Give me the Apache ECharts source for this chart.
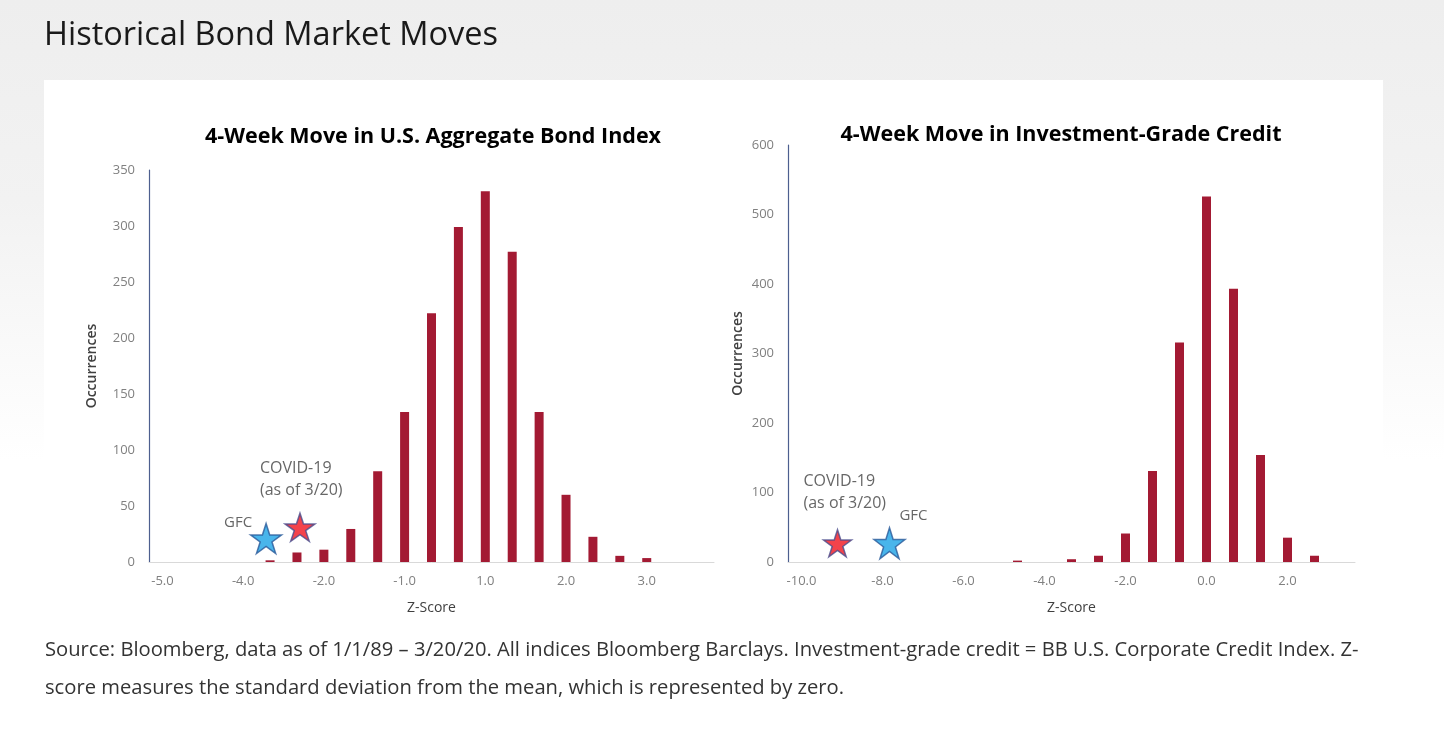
<!DOCTYPE html>
<html>
<head>
<meta charset="utf-8">
<script src="https://cdn.jsdelivr.net/npm/echarts@6/dist/echarts.min.js"></script>
<style>
html,body{margin:0;padding:0;width:1444px;height:729px;overflow:hidden;
background:linear-gradient(180deg,#eeeeee 0px,#f2f2f2 200px,#ffffff 460px,#ffffff 729px);}
#chart{width:1444px;height:729px;}
</style>
</head>
<body>
<div id="chart"></div>
<script>
// ---- data ----
const pageTitle = 'Historical Bond Market Moves';
const leftTitle = '4-Week Move in U.S. Aggregate Bond Index';
const rightTitle = '4-Week Move in Investment-Grade Credit';
const captionLines = [
  'Source: Bloomberg, data as of 1/1/89 \u2013 3/20/20. All indices Bloomberg Barclays. Investment-grade credit = BB U.S. Corporate Credit Index. Z-',
  'score measures the standard deviation from the mean, which is represented by zero.'
];
// category bins (label shown every 3rd bin)
const leftCategories = ['-5.0','','','-4.0','','','-2.0','','','-1.0','','','1.0','','','2.0','','','3.0','',''];
const leftValues = [0,0,0,0,1.5,8.5,11,29.5,81,134,222,299,331,277,134,60,22.5,5.5,3.5,0,0];
const rightCategories = ['-10.0','','','-8.0','','','-6.0','','','-4.0','','','-2.0','','','0.0','','','2.0','',''];
const rightValues = [0,0,0,0,0,0,0,0,2,0,4,9,41,131,316,526,393,154,35,9,0];
// event markers: [binIndex, value]
const leftGFC = [4, 21];
const leftCOVID = [5, 31];
const rightCOVID = [1, 27];
const rightGFC = [3, 27];
const leftYTicks = {min:0, max:350, interval:50};
const rightYTicks = {min:0, max:600, interval:100};

// ---- styles ----
const FONT = '"Open Sans", sans-serif';
const barColor = '#A31A33';
const starPath = 'path://M50,0 L61.8,36.2 L100,36.2 L69.1,58.8 L80.9,95.1 L50,72.7 L19.1,95.1 L30.9,58.8 L0,36.2 L38.2,36.2 Z';
const annoText = {color:'#404040', fontSize:16, fontFamily:FONT, lineHeight:22};

function xAxisCfg(gridIndex, cats){
  return {
    type:'category', gridIndex, data:cats, boundaryGap:true,
    axisLine:{lineStyle:{color:'#d9d9d9', width:1}},
    axisTick:{show:false},
    axisLabel:{interval:0, color:'#808080', fontSize:13, fontFamily:FONT, margin:13},
    name:'Z-Score', nameLocation:'middle', nameGap:39,
    nameTextStyle:{color:'#404040', fontSize:14, fontFamily:FONT}
  };
}
function yAxisCfg(gridIndex, t, gap){
  return {
    type:'value', gridIndex, min:t.min, max:t.max, interval:t.interval,
    axisLine:{show:true, lineStyle:{color:'#4d5f8f', width:1.2}},
    axisTick:{show:false}, splitLine:{show:false},
    axisLabel:{color:'#808080', fontSize:13, fontFamily:FONT, margin:14},
    name:'Occurrences', nameLocation:'middle', nameGap:gap, nameRotate:90,
    nameTextStyle:{color:'#404040', fontSize:14, fontWeight:600, fontFamily:FONT}
  };
}
function star(xi, yi, pt, fill, border, size, offset, label){
  return {
    type:'scatter', xAxisIndex:xi, yAxisIndex:yi, z:5,
    symbol:starPath, symbolSize:size, symbolOffset:offset,
    itemStyle:{color:fill, borderColor:border, borderWidth:1.5},
    label:Object.assign({show:true, position:'inside', align:'center', verticalAlign:'middle'}, annoText, label),
    data:[pt]
  };
}

const chart = echarts.init(document.getElementById('chart'), null, {renderer:'canvas'});
chart.setOption({
  animation:false,
  backgroundColor:'transparent',
  grid:[
    {left:149, top:170, width:565, height:392},
    {left:788, top:145, width:567, height:417}
  ],
  xAxis:[ xAxisCfg(0, leftCategories), xAxisCfg(1, rightCategories) ],
  yAxis:[ yAxisCfg(0, leftYTicks, 50), yAxisCfg(1, rightYTicks, 43) ],
  series:[
    {type:'bar', xAxisIndex:0, yAxisIndex:0, data:leftValues, barWidth:9, itemStyle:{color:barColor}},
    {type:'bar', xAxisIndex:1, yAxisIndex:1, data:rightValues, barWidth:9, itemStyle:{color:barColor}},
    star(0,0,leftGFC,'#1BA3E6','#2B5A9A',[31,30],[-4,0],{formatter:'GFC', offset:[-28,-16], fontSize:15}),
    star(0,0,leftCOVID,'#F0141E','#4A4C8C',[30,28],[3,0],{formatter:'COVID-19\n(as of 3/20)', align:'left', offset:[-40,-48]}),
    star(1,1,rightCOVID,'#F0141E','#4A4C8C',[28,27],[9,0],{formatter:'COVID-19\n(as of 3/20)', align:'left', offset:[-34,-51]}),
    star(1,1,rightGFC,'#1BA3E6','#2B5A9A',[31,31],[7,0],{formatter:'GFC', offset:[24,-28], fontSize:15})
  ],
  graphic:[
    {type:'rect', z:-10, shape:{x:44, y:80, width:1339, height:545}, style:{fill:'#ffffff'}},
    {type:'text', x:44, y:36, style:{text:pageTitle, fill:'#1a1a1a', font:'500 32.5px "Open Sans", sans-serif', textVerticalAlign:'middle'}},
    {type:'text', x:433, y:137, style:{text:leftTitle, fill:'#000000', font:'bold 21.5px ' + FONT, textAlign:'center', textVerticalAlign:'middle'}},
    {type:'text', x:1061, y:135, style:{text:rightTitle, fill:'#000000', font:'bold 21.5px ' + FONT, textAlign:'center', textVerticalAlign:'middle'}},
    {type:'text', x:45, y:650, style:{text:captionLines[0], fill:'#333333', font:'20.2px "Open Sans", sans-serif', textVerticalAlign:'middle'}},
    {type:'text', x:45, y:688, style:{text:captionLines[1], fill:'#333333', font:'20.2px "Open Sans", sans-serif', textVerticalAlign:'middle'}}
  ]
});
</script>
</body>
</html>
